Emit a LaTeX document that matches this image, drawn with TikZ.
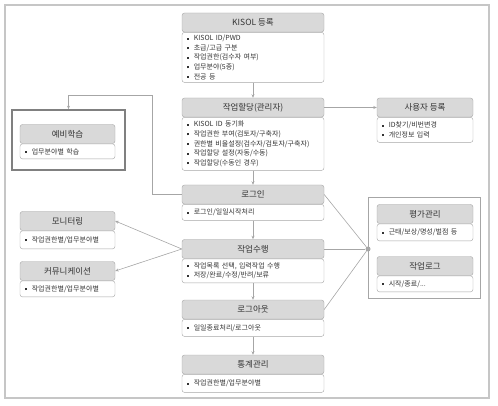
\documentclass[tikz,border=0pt]{standalone}
\usepackage{fontspec}
\setmainfont{Noto Sans CJK KR}
\usetikzlibrary{arrows.meta,positioning}
\definecolor{hdfill}{HTML}{D9D9D9}
\definecolor{edge}{HTML}{A6A6A6}
\definecolor{txt}{HTML}{333333}
\newcommand{\bul}{\rule[0.3ex]{0.5ex}{0.5ex}\hspace{0.7em}}

\begin{document}
\begin{tikzpicture}[x=1pt, y=-1pt, >={Stealth[length=3.5pt,width=3pt]}, text=txt,
  hd/.style={draw=edge, fill=hdfill, rounded corners=2.5pt, minimum height=19pt, inner sep=1pt, font=\fontsize{8.5}{9}\selectfont},
  bd/.style={draw=edge, fill=white, rounded corners=2.5pt, align=left, inner xsep=5pt, inner ysep=2pt, font=\fontsize{7}{9.6}\selectfont},
  mainw/.style={minimum width=142pt},
  mainb/.style={text width=132pt},
  sidew/.style={minimum width=95pt},
  sideb/.style={text width=85pt},
  box/.style={draw=#1, fill=white},
  ln/.style={draw=edge, line width=0.6pt},
  ar/.style={ln, ->},
  jn/.style={circle, fill=gray!70, inner sep=0pt, minimum size=5pt}
]
\useasboundingbox (0,0) rectangle (498,406);
\draw[draw=gray!45, line width=1.8pt] (5,5) rectangle (489,398);
% main column
\node[hd, mainw] (kisol) at (253,22.5) {KISOL 등록};
\node[bd, mainb, below=0pt of kisol, minimum height=50pt] (kisolb) {\bul KISOL ID/PWD\\ \bul 초급/고급 구분\\ \bul 작업권한(검수자 여부)\\ \bul 업무분야(5종)\\ \bul 전공 등};
\node[hd, mainw] (alloc) at (253,107.5) {작업할당(관리자)};
\node[bd, mainb, below=0pt of alloc, minimum height=53pt] (allocb) {\bul KISOL ID 동기화\\ \bul 작업권한 부여(검토자/구축자)\\ \bul 권한별 비율설정(검수자/검토자/구축자)\\ \bul 작업할당 설정(자동/수동)\\ \bul 작업할당(수동인 경우)};
\node[hd, mainw] (login) at (253,194.5) {로그인};
\node[bd, mainb, below=0pt of login, minimum height=16pt] (loginb) {\bul 로그인/일일시작처리};
\node[hd, mainw] (work) at (253,249) {작업수행};
\node[bd, mainb, below=0pt of work, minimum height=24pt] (workb) {\bul 작업목록 선택, 입력작업 수행\\ \bul 저장/완료/수정/반려/보류};
\node[hd, mainw] (logout) at (253,309.5) {로그아웃};
\node[bd, mainb, below=0pt of logout, minimum height=17pt] (logoutb) {\bul 일일종료처리/로그아웃};
\node[hd, mainw] (stat) at (253,364.5) {통계관리};
\node[bd, mainb, below=0pt of stat, minimum height=18pt] (statb) {\bul 작업권한별/업무분야별};
% right side
\node[hd, minimum width=96pt] (user) at (425,107.5) {사용자 등록};
\node[bd, text width=86pt, below=0pt of user, minimum height=25pt] (userb) {\bul ID찾기/비번변경\\ \bul 개인정보 입력};
\node[box=edge, minimum width=112pt, minimum height=101pt] (evalbox) at (424,247.5) {};
\node[hd, minimum width=96pt] (eval) at (425,214) {평가관리};
\node[bd, text width=86pt, below=0pt of eval, minimum height=17pt] (evalb) {\bul 근태/보상/명성/벌점 등};
\node[hd, minimum width=96pt] (wlog) at (425,266) {작업로그};
\node[bd, text width=86pt, below=0pt of wlog, minimum height=16pt] (wlogb) {\bul 시작/종료/...};
\node[jn] (dot) at (368,249) {};
% left side
\node[box=gray, line width=1.6pt, minimum width=113pt, minimum height=60pt] (prebox) at (68.5,140) {};
\node[hd, sidew] (pre) at (67.5,134) {예비학습};
\node[bd, sideb, below=0pt of pre, minimum height=15pt] (preb) {\bul 업무분야별 학습};
\node[hd, sidew] (mon) at (67.5,221) {모니터링};
\node[bd, sideb, below=0pt of mon, minimum height=18pt] (monb) {\bul 작업권한별/업무분야별};
\node[hd, sidew] (comm) at (67.5,271) {커뮤니케이션};
\node[bd, sideb, below=0pt of comm, minimum height=16pt] (commb) {\bul 작업권한별/업무분야별};
\coordinate (bend) at (152,95);
% flow down the main column
\draw[ar] (kisolb) -- (alloc);
\draw[ar] (allocb) -- (login);
\draw[ar] (loginb) -- (work);
\draw[ar] (workb) -- (logout);
\draw[ar] (logoutb) -- (stat);
% side links
\draw[ar] (alloc.east) -- (user.west);
\draw[ar] (login.west) -| (bend) -| (prebox.north);
\draw[ar] (work.west) -- (mon.east);
\draw[ar] (work.west) -- (comm.east);
\draw[ln] (login.east) -- (dot);
\draw[ln] (work.east) -- (dot);
\draw[ln] (logout.east) -- (dot);
\end{tikzpicture}
\end{document}
